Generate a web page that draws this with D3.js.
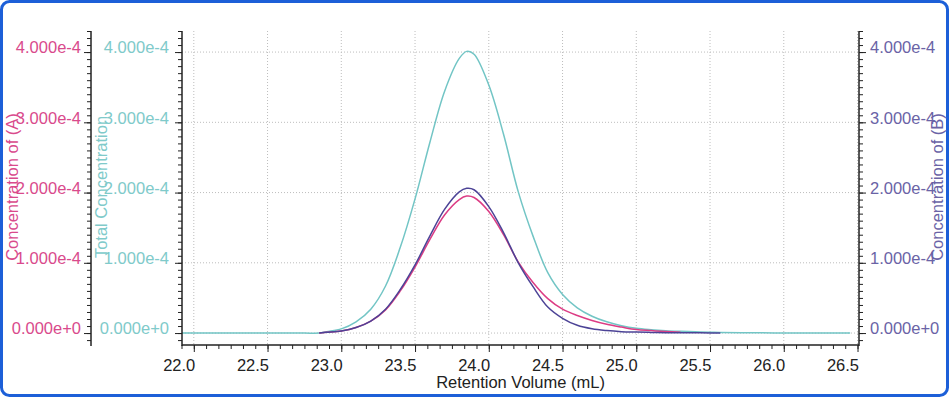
<!DOCTYPE html>
<html>
<head>
<meta charset="utf-8">
<script src="https://cdn.jsdelivr.net/npm/d3@7"></script>
<style>
  html, body { margin: 0; padding: 0; background: #fff; }
  svg { display: block; font-family: "Liberation Sans", Arial, sans-serif; }
</style>
</head>
<body>
<div id="chart"></div>
<script>
const W = 950, H = 398;

// retention volume (mL)
const volume = [21.92, 22.5, 22.75, 22.85, 22.9, 23.0, 23.1, 23.2, 23.3, 23.4, 23.5, 23.6, 23.7, 23.8, 23.85, 23.9,
  24.0, 24.1, 24.2, 24.3, 24.4, 24.5, 24.6, 24.7, 24.8, 24.9, 25.0, 25.1, 25.2, 25.3, 25.4, 25.5,
  25.57, 25.8, 26.0, 26.2, 26.45];
// concentrations, in units of 1e-4
const concTotal = [0, 0, 0, 0, 0.02, 0.06, 0.16, 0.34, 0.67, 1.22, 1.91, 2.71, 3.44, 3.91, 4.01, 3.97,
  3.53, 2.83, 2.01, 1.38, 0.86, 0.55, 0.36, 0.24, 0.16, 0.105, 0.068, 0.048, 0.034, 0.025, 0.018, 0.012,
  0.009, 0.004, 0.002, 0.001, 0];
const concA = [null, null, null, 0, 0.01, 0.03, 0.08, 0.17, 0.33, 0.60, 0.94, 1.33, 1.68, 1.90, 1.95, 1.93,
  1.73, 1.40, 1.01, 0.72, 0.49, 0.34, 0.25, 0.18, 0.125, 0.085, 0.05, 0.035, 0.022, 0.012, null, null,
  null, null, null, null, null];
const concB = [null, null, null, 0, 0.01, 0.03, 0.08, 0.17, 0.34, 0.62, 0.97, 1.38, 1.76, 2.01, 2.06, 2.04,
  1.80, 1.43, 1.00, 0.66, 0.37, 0.21, 0.11, 0.06, 0.035, 0.02, 0.014, 0.009, 0.006, 0.004, 0.003, 0.002,
  0.001, null, null, null, null];

const xTicks = d3.range(0, 10).map(i => 22 + i * 0.5);
const yTicks = [0, 1, 2, 3, 4];

const pink = "#dc3c84", teal = "#72c5c5", purple = "#4c4396";
const pinkText = "#d94a8c", tealText = "#80caca", purpleText = "#6a63a6";

const plotL = 182, plotR = 859, plotT = 31, plotB = 345;
const x = d3.scaleLinear().domain([21.92, 26.51]).range([plotL, plotR]);
const y = d3.scaleLinear().domain([-0.17, 4.3]).range([plotB, plotT]);
const fmt = v => d3.format(".3e")(v * 1e-4);

const svg = d3.select("#chart").append("svg").attr("width", W).attr("height", H);

svg.append("rect")
  .attr("x", 1.5).attr("y", 1.5).attr("width", 946).attr("height", 394)
  .attr("rx", 8).attr("fill", "#fff").attr("stroke", "#1c5fd8").attr("stroke-width", 3);

// grid
const grid = svg.append("g").attr("stroke", "#bdbdbd").attr("stroke-dasharray", "1,2");
grid.selectAll(".gx").data(xTicks).enter().append("line")
  .attr("x1", d => x(d)).attr("x2", d => x(d)).attr("y1", plotT).attr("y2", plotB);
grid.selectAll(".gy").data(yTicks).enter().append("line")
  .attr("x1", plotL).attr("x2", plotR).attr("y1", d => y(d)).attr("y2", d => y(d));

// lines
const idx = d3.range(volume.length);
const mkLine = arr => d3.line()
  .defined(i => arr[i] != null)
  .x(i => x(volume[i])).y(i => y(arr[i]))
  .curve(d3.curveCatmullRom.alpha(0.5));

[[concTotal, teal], [concA, pink], [concB, purple]].forEach(([arr, c]) => {
  svg.append("path").attr("d", mkLine(arr)(idx))
    .attr("fill", "none").attr("stroke", c).attr("stroke-width", 1.5);
});

const minorY = d3.range(-1, 44).map(i => i / 10);
const minorX = d3.range(-1, 56).map(i => 22 + i / 12).filter(v => v >= 21.915 && v <= 26.51);

function styleAxis(g, color) {
  g.select(".domain").attr("stroke", "#222").attr("stroke-width", 1.5);
  g.selectAll(".tick line").attr("stroke", "#222");
  g.selectAll("text").attr("fill", color).attr("font-size", 16.5).attr("font-family", null);
}

function yAxis(xpos, gen, color, pad) {
  const g = svg.append("g").attr("transform", `translate(${xpos},0)`);
  g.append("g").call(gen(y).tickValues(minorY).tickSize(4).tickFormat(""))
    .call(a => a.select(".domain").remove())
    .selectAll("line").attr("stroke", "#222");
  const a = g.append("g").call(gen(y).tickValues(yTicks).tickSize(7).tickSizeOuter(0)
    .tickPadding(pad).tickFormat(fmt));
  a.select(".domain").attr("d", `M0,${plotT}V${plotB + 1}`);
  styleAxis(a, color);
  a.selectAll("text").attr("dy", "0.05em");
}

yAxis(91, d3.axisLeft, pinkText, 3);
yAxis(plotL, d3.axisLeft, tealText, 6);
yAxis(plotR, d3.axisRight, purpleText, 4);

// x axis
const gx = svg.append("g").attr("transform", `translate(0,${plotB})`);
gx.append("g").call(d3.axisBottom(x).tickValues(minorX).tickSize(4).tickFormat(""))
  .call(a => a.select(".domain").remove())
  .selectAll("line").attr("stroke", "#222");
const ax = gx.append("g").call(d3.axisBottom(x).tickValues(xTicks).tickSize(7).tickSizeOuter(0)
  .tickFormat(d3.format(".1f")));
ax.select(".domain").attr("d", `M${plotL},0H${plotR}`);
styleAxis(ax, "#222");
ax.selectAll("text").attr("text-anchor", "end").attr("x", 1).attr("y", 14).attr("dy", "0.71em");

// titles
svg.append("text").attr("x", (plotL + plotR) / 2).attr("y", 388)
  .attr("text-anchor", "middle").attr("font-size", 16.5).attr("fill", "#222")
  .text("Retention Volume (mL)");

[[12, "Concentration of (A)", pinkText], [101, "Total Concentration", tealText],
 [937, "Concentration of (B)", purpleText]].forEach(([cx, t, c]) => {
  svg.append("text")
    .attr("transform", `translate(${cx},187) rotate(-90)`)
    .attr("text-anchor", "middle").attr("dy", "0.36em")
    .attr("font-size", 16.5).attr("fill", c).text(t);
});
</script>
</body>
</html>
